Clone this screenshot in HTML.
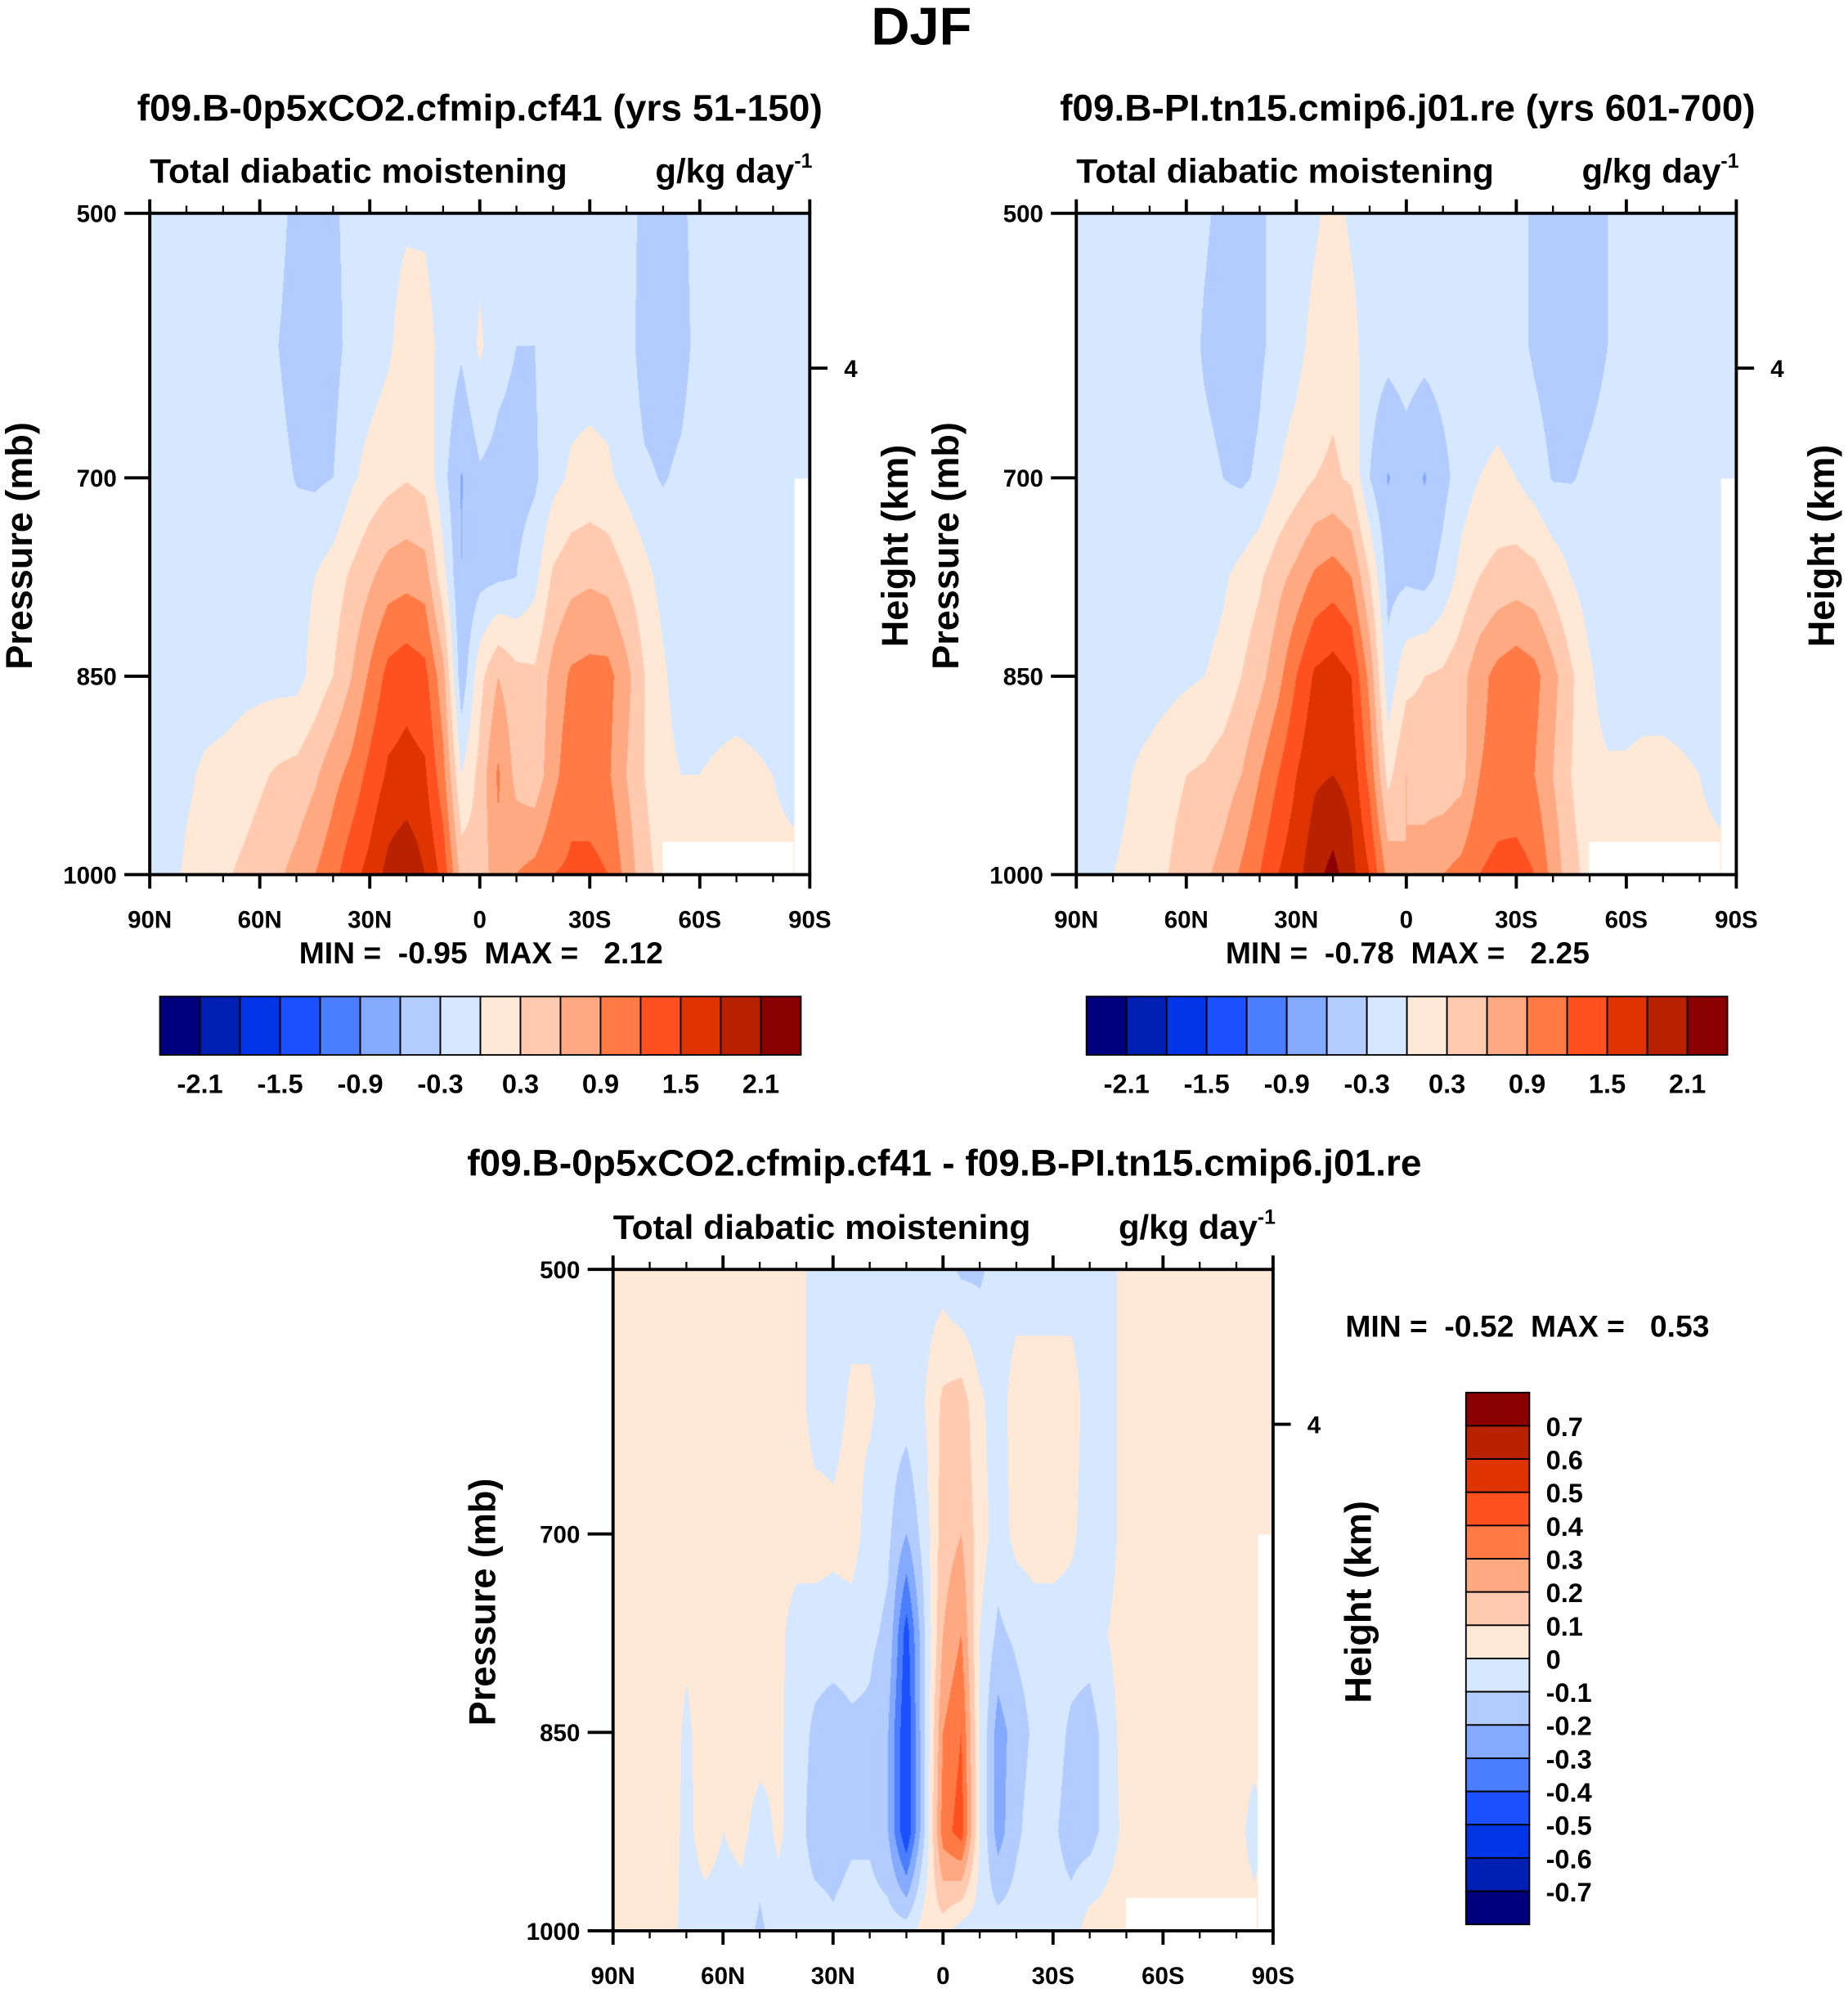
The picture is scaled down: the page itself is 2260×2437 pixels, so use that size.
<!DOCTYPE html>
<html><head><meta charset="utf-8">
<style>
html,body{margin:0;padding:0;background:#fff;}
#wrap{position:absolute;left:0;top:0;width:1456px;height:1570px;transform:scale(1.55220,1.55223);transform-origin:0 0;}
canvas{position:absolute;}
svg{position:absolute;left:0;top:0;}
text{font-family:"Liberation Sans",Arial,sans-serif;font-weight:bold;fill:#000;white-space:pre;}
</style></head>
<body>
<div id="wrap">
<canvas id="c1" width="807" height="809" style="left:118px;top:168px;width:520px;height:521px"></canvas>
<canvas id="c2" width="807" height="809" style="left:848px;top:168px;width:520px;height:521px"></canvas>
<canvas id="c3" width="807" height="809" style="left:483px;top:1000px;width:520px;height:521px"></canvas>
<svg id="ov" width="1456" height="1570" viewBox="0 0 1456 1570">
<text x="726" y="35" font-size="42" text-anchor="middle">DJF</text>
</svg>
</div>
<script>
// ---------- data ----------
const lats = [90,85,80,75,70,65,60,55,50,45,40,35,30,25,20,15,10,5,0,-5,-10,-15,-20,-25,-30,-35,-40,-45,-50,-55,-60,-65,-70,-75,-80,-85,-90];
const levels = [500,600,700,775,850,925,1000];
const xTickLabels = ["90N","60N","30N","0","30S","60S","90S"];
const yTickValues = [500,700,850,1000];
const absBounds = [-2.4,-2.1,-1.8,-1.5,-1.2,-0.9,-0.6,-0.3,0,0.3,0.6,0.9,1.2,1.5,1.8,2.1,2.4];
const absLabels = ["-2.1","-1.5","-0.9","-0.3","0.3","0.9","1.5","2.1"];
const diffBounds = [-0.8,-0.7,-0.6,-0.5,-0.4,-0.3,-0.2,-0.1,0,0.1,0.2,0.3,0.4,0.5,0.6,0.7,0.8];
const diffLabels = ["0.7","0.6","0.5","0.4","0.3","0.2","0.1","0","-0.1","-0.2","-0.3","-0.4","-0.5","-0.6","-0.7"];
const colors = ["#00007f","#0020b4","#0036e6","#1a50ff","#4a7eff","#83aaff","#b3ccff","#d6e8ff","#ffe8d6","#ffcab0","#ffa982","#ff7a45","#ff5020","#e03400","#b82200","#8b0000"];

const f1 = [
[-.15,-.15,-.15,-.15,-.15,-.15,-.15,-.2,-.4,-.4,-.35,-.2,-.15,-.1,-.05,-.05,-.15,-.15,-.1,-.15,-.3,-.15,-.15,-.15,-.15,-.15,-.15,-.4,-.4,-.35,-.2,-.15,-.15,-.15,-.15,-.15,-.15],
[-.15,-.15,-.15,-.15,-.15,-.15,-.15,-.3,-.45,-.45,-.4,-.2,-.15,-.05,.15,.12,-.1,-.25,.05,-.2,-.3,-.3,-.15,-.15,-.15,-.15,-.15,-.45,-.45,-.4,-.2,-.15,-.15,-.15,-.15,-.15,-.15],
[-.15,-.15,-.15,-.15,-.15,-.15,-.15,-.2,-.32,-.35,-.3,-.05,.1,.2,.28,.2,-.2,-.62,-.35,-.4,-.42,-.35,-.1,.05,.1,.05,-.1,-.25,-.32,-.25,-.15,-.15,-.15,-.15,-.15,-.15,-.15],
[-.15,-.15,-.15,-.15,-.15,-.15,-.15,-.15,-.1,0,.15,.35,.55,.75,.8,.75,.1,-.6,-.4,-.35,-.3,-.1,.35,.5,.55,.5,.3,.1,-.1,-.15,-.15,-.15,-.15,-.15,-.15,-.15,-.15],
[-.15,-.15,-.15,-.15,-.15,-.1,-.1,-.1,-.1,.1,.3,.6,.95,1.3,1.4,1.3,.7,-.5,.2,.6,.4,.35,.7,.95,1.0,1.0,.7,.3,.05,-.15,-.15,-.15,-.15,-.15,-.15,-.15,-.15],
[-.15,-.15,-.05,.05,.1,.15,.25,.35,.4,.55,.8,1.0,1.3,1.55,1.6,1.55,1.0,0,.4,.95,.5,.4,.8,1.1,1.0,.95,.6,.3,.1,0,0,.05,.1,.05,0,-.1,-.15],
[-.15,-.1,.05,.15,.25,.35,.45,.55,.7,.9,1.1,1.4,1.6,1.9,2.05,1.8,1.4,.5,.4,.8,.9,1.0,1.2,1.25,1.3,1.2,.8,.4,.2,.1,.1,.1,.1,.1,.1,.1,.1]
];
const f2 = [
[-.15,-.15,-.15,-.15,-.15,-.15,-.15,-.25,-.4,-.4,-.35,-.2,-.15,-.05,.1,-.05,-.15,-.15,-.05,-.15,-.15,-.15,-.15,-.15,-.2,-.35,-.4,-.4,-.35,-.3,-.2,-.15,-.15,-.15,-.15,-.15,-.15],
[-.15,-.15,-.15,-.15,-.15,-.15,-.15,-.35,-.45,-.45,-.35,-.2,-.1,.1,.2,.1,-.15,-.2,-.15,-.2,-.15,-.15,-.15,-.15,-.2,-.35,-.45,-.45,-.4,-.3,-.2,-.15,-.15,-.15,-.15,-.15,-.15],
[-.15,-.15,-.15,-.15,-.15,-.15,-.15,-.2,-.3,-.35,-.25,0,.15,.3,.35,.25,-.3,-.62,-.45,-.62,-.4,-.15,0,.05,0,-.15,-.32,-.32,-.25,-.2,-.15,-.15,-.15,-.15,-.15,-.15,-.15],
[-.15,-.15,-.15,-.15,-.15,-.15,-.15,-.15,-.05,.1,.25,.5,.7,.95,1.05,.9,.3,-.4,-.35,-.4,-.2,.1,.3,.4,.45,.4,.2,0,-.15,-.15,-.15,-.15,-.15,-.15,-.15,-.15,-.15],
[-.15,-.15,-.15,-.15,-.15,-.1,-.05,0,.1,.3,.5,.8,1.2,1.55,1.65,1.5,.8,-.2,.2,.3,.35,.5,.8,1.0,1.1,1.0,.7,.35,.05,-.15,-.15,-.15,-.15,-.15,-.15,-.15,-.15],
[-.15,-.15,-.15,0,.1,.2,.3,.35,.45,.6,.9,1.2,1.5,1.75,1.8,1.7,1.1,.2,.6,.5,.4,.5,.9,1.0,.95,.9,.6,.3,.1,.05,.05,.1,.1,.05,0,-.1,-.15],
[-.15,-.15,0,.1,.2,.3,.45,.55,.7,.95,1.2,1.5,1.7,2.0,2.2,1.9,1.5,.8,.6,.7,.9,1.0,1.2,1.3,1.35,1.2,.8,.4,.2,.1,.1,.1,.1,.1,.1,.1,.1]
];
const f3 = [
[.05,.05,.05,.05,.05,.05,.05,.05,.05,.05,.05,-.05,-.05,-.05,-.05,-.05,-.05,-.05,-.05,-.12,-.12,-.05,-.05,-.05,-.05,-.05,-.05,-.05,.05,.05,.05,.05,.05,.05,.05,.05,.05],
[.05,.05,.05,.05,.05,.05,.05,.05,.05,.05,.05,-.05,-.05,.02,.02,-.05,-.05,0,.12,.15,.02,-.05,.05,.05,.05,.05,-.05,-.05,.05,.05,.05,.05,.05,.05,.05,.05,.05],
[.05,.05,.05,.05,.05,.05,.05,.05,.05,.05,.05,.05,.03,.05,-.05,-.08,-.2,-.05,.15,.2,.05,-.05,.03,.05,.05,.02,-.05,-.05,.05,.05,.05,.05,.05,.05,.05,.05,.05],
[.05,.05,.05,.05,.02,.05,.05,.05,.05,.03,-.05,-.05,-.05,-.05,-.08,-.12,-.45,-.1,.2,.3,0,-.12,-.08,-.05,-.05,-.05,-.05,0,.05,.05,.05,.05,.05,.05,.05,.05,.05],
[.05,.05,.05,.05,-.02,.05,.05,.05,.05,.02,-.05,-.12,-.15,-.12,-.12,-.2,-.5,-.1,.3,.4,0,-.25,-.15,-.08,-.05,-.12,-.15,-.05,.05,.05,.05,.05,.05,.05,.05,.05,.05],
[.05,.05,.05,.05,-.03,.05,0,.03,-.05,.02,-.05,-.15,-.15,-.12,-.12,-.2,-.5,-.1,.35,.45,0,-.25,-.12,-.05,-.08,-.15,-.15,-.05,.03,.05,.05,.05,.05,.05,.05,-.05,.05],
[.05,.05,.05,.05,-.05,-.05,-.05,-.05,-.12,-.05,-.05,-.05,-.08,-.05,-.05,-.05,-.05,.05,.05,-.05,-.05,-.05,-.05,-.05,-.05,-.05,.05,.05,.05,.05,.05,.05,.05,.05,.05,.05,.05]
];

// ---------- drawing ----------
function hexRGB(h){return [parseInt(h.substr(1,2),16),parseInt(h.substr(3,2),16),parseInt(h.substr(5,2),16)];}
const rgb = colors.map(hexRGB);
function colorIndex(v,b){let k=0;for(let i=1;i<b.length-1;i++){if(v>=b[i])k=i;}return k;}
function sample(field,lat,p){
  const fi=(90-lat)/5;let i0=Math.min(Math.floor(fi),lats.length-2);const tx=fi-i0;
  let j0=0;while(j0<levels.length-2&&p>levels[j0+1])j0++;
  const ty=(p-levels[j0])/(levels[j0+1]-levels[j0]);
  const a=field[j0][i0]*(1-tx)+field[j0][i0+1]*tx;
  const b=field[j0+1][i0]*(1-tx)+field[j0+1][i0+1]*tx;
  return a*(1-ty)+b*ty;
}
function drawField(id,field,bounds){
  const c=document.getElementById(id),ctx=c.getContext('2d');
  const W=c.width,H=c.height,img=ctx.createImageData(W,H);
  for(let y=0;y<H;y++){const p=500+500*y/(H-1);
    for(let x=0;x<W;x++){const lat=90-180*x/(W-1);
      const v=sample(field,lat,p);const col=rgb[colorIndex(v,bounds)];const o=(y*W+x)*4;
      img.data[o]=col[0];img.data[o+1]=col[1];img.data[o+2]=col[2];img.data[o+3]=255;}}
  ctx.putImageData(img,0,0);
  ctx.fillStyle='#fff';
  const sx=W/520,sy=H/521;
  ctx.fillRect(404*sx,495*sy,103*sx,26*sy);
  ctx.fillRect(508*sx,209*sy,12*sx,312*sy);
}
drawField('c1',f1,absBounds);
drawField('c2',f2,absBounds);
drawField('c3',f3,diffBounds);

const svg=document.getElementById('ov');
const NS='http://www.w3.org/2000/svg';
function el(tag,attrs,parent){const e=document.createElementNS(NS,tag);for(const k in attrs)e.setAttribute(k,attrs[k]);(parent||svg).appendChild(e);return e;}
function txt(x,y,s,size,anchor,parent){const t=el('text',{x:x,y:y,'font-size':size,'text-anchor':anchor||'middle'},parent);t.textContent=s;return t;}

function panel(L,T,title,titleX,titleY,titleLen,name){
  const g=el('g',{});
  
  
  const W=520,H=521;
  const xs=lat=>L+(90-lat)/180*W, ys=p=>T+(p-500)/500*H;
  const t=txt(titleX,titleY,title,29,'middle',g);
  t.setAttribute('textLength',titleLen);
  t.setAttribute('lengthAdjust','spacingAndGlyphs');
  
  
  const s=txt(L,T-24,'Total diabatic moistening',27,'start',g);
  s.setAttribute('textLength',329);
  s.setAttribute('lengthAdjust','spacingAndGlyphs');
  
  
  const u=el('text',{x:L+W+2,y:T-24,'font-size':27,'text-anchor':'end'},g);
  
  
  u.innerHTML='g/kg day<tspan font-size="16" dy="-12">-1</tspan>';
  el('rect',{x:L,y:T,width:W,height:H,fill:'none',stroke:'#000','stroke-width':2.5},g);
  for(let lat=90;lat>=-90;lat-=10){const x=xs(lat);const maj=lat%30===0;const len=maj?11:6;
    el('line',{x1:x,y1:T+H,x2:x,y2:T+H+len,stroke:'#000','stroke-width':maj?2.5:1.5},g);
    el('line',{x1:x,y1:T,x2:x,y2:T-len,stroke:'#000','stroke-width':maj?2.5:1.5},g);}
  xTickLabels.forEach((s,i)=>{const lab=txt(xs(90-30*i),T+H+42,s,19,'middle',g);
    
    });
  yTickValues.forEach(p=>{const y=ys(p);el('line',{x1:L-20,y1:y,x2:L,y2:y,stroke:'#000','stroke-width':2.5},g);
    const lab=txt(L-26,y+7,String(p),19,'end',g);
    
    });
  const y4=T+122;
  el('line',{x1:L+W,y1:y4,x2:L+W+14,y2:y4,stroke:'#000','stroke-width':2.5},g);
  txt(L+W+27,y4+7,'4',19,'start',g);
  const yt=txt(0,0,'Pressure (mb)',29,'middle',g);
  yt.setAttribute('transform','translate('+(L-93)+','+(T+262)+') rotate(-90)');
  
  
  const rt=txt(0,0,'Height (km)',29,'middle',g);
  rt.setAttribute('transform','translate('+(L+W+77)+','+(T+262)+') rotate(-90)');
  
  
}
function hbar(L,T,minmax,name){
  const g=el('g',{});
  
  
  const mm=txt(L+261,T+91,minmax,24,'middle',g);
  
  
  const x0=L+8,w=505/16,y0=T+117;
  colors.forEach((c,i)=>{const r=el('rect',{x:x0+i*w,y:y0,width:w,height:46,fill:c,stroke:'#000','stroke-width':1.2},g);
    
    });
  absLabels.forEach((s,i)=>{const lab=txt(x0+(1+2*i)*w,y0+76,s,21,'middle',g);
    
    });
}
panel(118,168,'f09.B-0p5xCO2.cfmip.cf41 (yrs 51-150)',378,95,540,'panel-1');
panel(848,168,'f09.B-PI.tn15.cmip6.j01.re (yrs 601-700)',1109,95,548,'panel-2');
panel(483,1000,'f09.B-0p5xCO2.cfmip.cf41 - f09.B-PI.tn15.cmip6.j01.re',744,926,752,'panel-diff');
hbar(118,668,'MIN =  -0.95  MAX =   2.12','colorbar-1');
hbar(848,668,'MIN =  -0.78  MAX =   2.25','colorbar-2');
(function(){
  const g=el('g',{});
  
  
  const mm=txt(1060,1053,'MIN =  -0.52  MAX =   0.53',24,'start',g);
  
  
  const y0=1097,h=419/16;
  colors.slice().reverse().forEach((c,i)=>{const r=el('rect',{x:1155,y:y0+i*h,width:50,height:h,fill:c,stroke:'#000','stroke-width':1.2},g);
    
    });
  diffLabels.forEach((s,i)=>{const lab=txt(1218,y0+(i+1)*h+8,s,21,'start',g);
    
    });
})();
</script>
</body></html>
